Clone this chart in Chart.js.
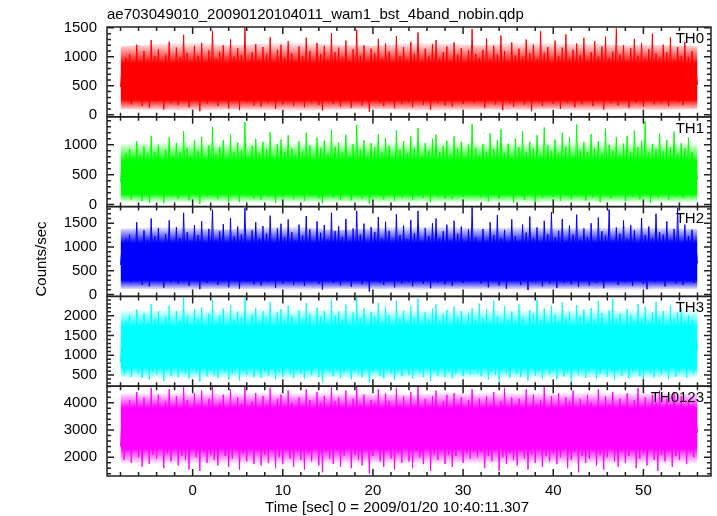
<!DOCTYPE html>
<html>
<head>
<meta charset="utf-8">
<script src="https://cdn.jsdelivr.net/npm/chart.js@4/dist/chart.umd.min.js"></script>
<style>
  html, body { margin: 0; padding: 0; background: #fff; }
  #wrap { width: 717px; height: 516px; }
</style>
</head>
<body>
<div id="wrap"><canvas id="lc" width="717" height="516"></canvas></div>
<script>
const fileTitle = "ae703049010_20090120104011_wam1_bst_4band_nobin.qdp";
const xTitle = "Time [sec] 0 = 2009/01/20 10:40:11.307";
const yTitle = "Counts/sec";
const panelNames = ["TH0", "TH1", "TH2", "TH3", "TH0123"];
const panelRgb = ["255,0,0", "0,255,0", "0,0,255", "0,255,255", "255,0,255"];

// time grid of the light curve (start of first bin, bin width in sec)
const binStart = -8.0;
const binSize = 0.2;

// count rates (counts/sec)
const th0Rate = [
  480, 860, 250, 980, 320, 1050, 180, 900, 380, 1210, 270, 940, 150, 1100, 340, 960, 120, 1290, 300, 1010,
  220, 1130, 360, 890, 90, 1040, 310, 1260, 200, 920, 400, 1160, 170, 990, 280, 1380, 240, 1070, 130, 930,
  350, 1190, 260, 1020, 60, 1240, 330, 900, 190, 1110, 300, 1450, 220, 970, 150, 1090, 390, 1200, 270, 880,
  110, 1300, 240, 1000, 350, 1150, 80, 1030, 290, 1500, 210, 930, 370, 1080, 160, 1220, 320, 960, 140, 1170,
  280, 1050, 200, 1340, 340, 910, 100, 1120, 260, 1210, 180, 980, 400, 1270, 230, 1060, 150, 940, 310, 1180,
  250, 1010, 130, 1330, 290, 1100, 210, 890, 370, 1240, 170, 1050, 70, 1190, 330, 950, 240, 1410, 190, 1080,
  300, 1160, 140, 990, 260, 1280, 350, 920, 120, 1130, 280, 1470, 220, 1020, 160, 1200, 310, 900, 50, 1140,
  270, 1060, 380, 1310, 200, 970, 150, 1230, 330, 1090, 240, 900, 110, 1360, 290, 1010, 180, 1170, 350, 950,
  210, 1260, 130, 1050, 300, 1420, 250, 920, 170, 1140, 360, 1000, 90, 1220, 280, 1290, 200, 970, 320, 1080,
  160, 1180, 270, 940, 140, 1250, 230, 1040, 380, 1150, 190, 910, 260, 1110, 300, 1480, 210, 1050, 340, 980,
  230, 1120, 120, 1320, 290, 960, 350, 1190, 180, 1040, 260, 1370, 80, 1100, 310, 930, 200, 1250, 140, 1020,
  330, 1140, 250, 990, 170, 1300, 280, 1060, 60, 1210, 360, 950, 220, 1440, 150, 1070, 300, 1170, 240, 910,
  190, 1280, 340, 1010, 100, 1160, 270, 1390, 210, 960, 390, 1120, 130, 1230, 290, 1030, 180, 1330, 320, 940,
  260, 1080, 150, 1270, 370, 1000, 230, 1180, 90, 1350, 280, 980, 200, 1090, 340, 1490, 160, 1040, 250, 1200,
  310, 930, 120, 1150, 270, 1310, 210, 1020, 380, 1240, 140, 970, 290, 1130, 230, 1400, 180, 1060, 350, 990,
  200, 1210, 300, 1080, 150, 1340, 260, 950, 330, 1170, 220, 1020, 170, 1260, 290, 990, 240, 1100, 380, 880, 520
];
const th1Rate = [
  380, 740, 160, 860, 240, 930, 90, 790, 300, 1060, 180, 820, 60, 980, 260, 850, 30, 1150, 210, 880,
  170, 1000, 250, 760, 20, 920, 230, 1120, 140, 810, 280, 1030, 100, 870, 200, 1230, 160, 950, 70, 820,
  270, 1070, 190, 900, 10, 1130, 240, 780, 130, 990, 220, 1300, 150, 850, 90, 960, 280, 1080, 180, 760,
  50, 1170, 170, 880, 260, 1040, 40, 910, 210, 1380, 140, 810, 270, 980, 100, 1100, 230, 860, 80, 1050,
  200, 930, 130, 1210, 250, 790, 30, 1010, 190, 1090, 120, 880, 280, 1160, 160, 940, 90, 830, 220, 1060,
  180, 900, 60, 1200, 210, 990, 140, 770, 270, 1120, 110, 950, 20, 1070, 240, 850, 170, 1250, 120, 970,
  220, 1040, 80, 870, 190, 1170, 260, 820, 70, 1010, 200, 1330, 150, 920, 100, 1080, 230, 800, 10, 1030,
  190, 960, 280, 1180, 140, 870, 90, 1110, 240, 980, 170, 790, 60, 1240, 210, 910, 120, 1060, 260, 850,
  150, 1140, 80, 950, 220, 1280, 180, 810, 110, 1030, 270, 900, 40, 1100, 200, 1170, 140, 870, 240, 980,
  100, 1070, 190, 840, 90, 1140, 160, 940, 280, 1050, 130, 790, 250, 1000, 220, 1350, 150, 950, 260, 820,
  120, 1010, 230, 890, 50, 1190, 170, 930, 270, 1080, 100, 1260, 200, 860, 140, 1020, 250, 780, 30, 1110,
  210, 960, 150, 1230, 80, 880, 260, 1050, 180, 940, 20, 1160, 240, 830, 110, 1290, 190, 990, 270, 900,
  130, 1090, 220, 860, 60, 1200, 250, 970, 160, 1120, 90, 810, 230, 1340, 140, 920, 280, 1040, 70, 880,
  190, 1180, 120, 940, 260, 1060, 40, 850, 210, 1270, 150, 1000, 100, 910, 240, 1130, 170, 820, 280, 1020,
  60, 1150, 200, 880, 130, 1240, 270, 960, 90, 1070, 230, 1390, 160, 870, 30, 1010, 250, 930, 120, 1190,
  220, 900, 170, 1080, 80, 960, 240, 1220, 140, 850, 270, 1030, 110, 940, 200, 1120, 150, 880, 260, 740, 420
];
const th2Rate = [
  620, 1080, 300, 1170, 420, 1260, 250, 1100, 460, 1520, 330, 1010, 200, 1350, 440, 1150, 170, 1600, 360, 1220,
  290, 1400, 430, 1080, 140, 1270, 390, 1560, 260, 1120, 480, 1420, 220, 1190, 350, 1720, 300, 1310, 180, 1130,
  440, 1460, 320, 1250, 110, 1540, 410, 1090, 240, 1380, 370, 1780, 280, 1160, 200, 1330, 460, 1480, 340, 1060,
  150, 1610, 300, 1220, 430, 1430, 120, 1260, 360, 1820, 270, 1110, 450, 1350, 210, 1520, 390, 1170, 190, 1440,
  350, 1280, 260, 1660, 420, 1100, 140, 1390, 320, 1490, 230, 1200, 470, 1580, 290, 1310, 200, 1140, 380, 1470,
  310, 1240, 180, 1650, 360, 1370, 270, 1070, 450, 1540, 220, 1300, 100, 1460, 410, 1160, 300, 1720, 240, 1330,
  370, 1440, 190, 1210, 330, 1590, 430, 1120, 160, 1390, 350, 1760, 280, 1260, 210, 1490, 380, 1100, 60, 1420,
  340, 1310, 460, 1630, 250, 1180, 200, 1530, 410, 1340, 300, 1080, 150, 1690, 360, 1250, 230, 1450, 430, 1160,
  260, 1570, 170, 1290, 370, 1760, 310, 1110, 220, 1400, 440, 1230, 130, 1500, 350, 1600, 250, 1180, 400, 1330,
  210, 1470, 330, 1150, 180, 1550, 290, 1280, 460, 1430, 240, 1090, 320, 1370, 270, 1840, 360, 1200, 310, 1060,
  230, 1380, 410, 1130, 150, 1520, 340, 1250, 270, 1670, 190, 1190, 450, 1360, 120, 1090, 300, 1580, 380, 1230,
  280, 1120, 200, 1470, 350, 1300, 90, 1640, 420, 1180, 260, 1410, 330, 1070, 170, 1550, 390, 1270, 230, 1730,
  360, 1200, 140, 1340, 310, 1590, 250, 1110, 470, 1450, 210, 1260, 380, 1680, 160, 1150, 290, 1390, 440, 1210,
  190, 1500, 320, 1090, 240, 1620, 400, 1330, 130, 1240, 350, 1790, 270, 1140, 420, 1410, 200, 1280, 310, 1560,
  250, 1170, 380, 1460, 180, 1350, 300, 1080, 440, 1610, 220, 1250, 110, 1430, 340, 1190, 260, 1700, 390, 1310,
  330, 1260, 170, 1540, 290, 1150, 410, 1380, 230, 1820, 350, 1110, 200, 1470, 270, 1230, 390, 1360, 240, 1120, 650
];
const th3Rate = [
  820, 1720, 520, 1860, 650, 2010, 450, 1760, 720, 2160, 560, 1800, 420, 2060, 680, 1830, 380, 2300, 600, 1920,
  520, 2110, 700, 1740, 350, 1980, 640, 2250, 480, 1790, 760, 2120, 440, 1870, 590, 2480, 530, 2010, 410, 1770,
  690, 2170, 560, 1940, 330, 2220, 660, 1740, 470, 2060, 610, 2400, 500, 1830, 420, 2020, 720, 2180, 580, 1710,
  390, 2270, 540, 1900, 690, 2110, 360, 1950, 600, 2450, 510, 1780, 700, 2030, 450, 2200, 640, 1840, 430, 2120,
  590, 1960, 490, 2350, 670, 1760, 380, 2090, 570, 2170, 460, 1880, 740, 2260, 530, 2000, 420, 1800, 630, 2140,
  550, 1920, 400, 2320, 610, 2050, 500, 1720, 700, 2210, 450, 1990, 310, 2130, 660, 1850, 560, 2420, 470, 2010,
  620, 2110, 420, 1880, 570, 2280, 690, 1780, 390, 2080, 600, 2460, 520, 1950, 440, 2190, 650, 1750, 300, 2100,
  580, 1990, 720, 2330, 480, 1850, 410, 2230, 670, 2020, 540, 1730, 370, 2380, 610, 1930, 470, 2140, 690, 1820,
  500, 2250, 400, 1960, 630, 2440, 560, 1780, 450, 2090, 710, 1910, 350, 2180, 600, 2290, 490, 1860, 660, 2040,
  440, 2150, 580, 1810, 410, 2230, 540, 1970, 730, 2120, 480, 1760, 610, 2060, 520, 2200, 640, 1880, 560, 2310,
  470, 1940, 690, 2170, 380, 1830, 600, 2390, 510, 2000, 340, 1790, 650, 2240, 560, 1900, 430, 2110, 700, 1850,
  530, 2290, 450, 1970, 620, 1760, 360, 2150, 680, 2060, 490, 2410, 580, 1880, 410, 2190, 640, 1810, 520, 2250,
  600, 2030, 390, 1870, 710, 2340, 470, 1950, 560, 2120, 320, 1780, 640, 2270, 500, 1990, 680, 2160, 430, 1840,
  570, 2200, 660, 1900, 400, 2370, 530, 2070, 720, 1800, 460, 2140, 590, 2430, 370, 1920, 610, 2050, 490, 1770,
  650, 2180, 420, 2010, 580, 1860, 700, 2300, 480, 1940, 350, 2230, 620, 1820, 540, 2090, 440, 2360, 670, 1980,
  510, 2120, 600, 1790, 390, 2260, 680, 1930, 460, 2080, 570, 2210, 640, 1870, 430, 2020, 710, 1890, 550, 1720, 1150
];
const th0123Rate = [
  2400, 3650, 1900, 3900, 2200, 4100, 1800, 3720, 2250, 4400, 2000, 3680, 1650, 4200, 2250, 3800, 1750, 4550, 2100, 3950,
  1950, 4300, 2300, 3650, 1600, 4050, 2150, 4500, 1850, 3750, 2280, 4250, 1700, 3850, 2050, 4600, 1900, 4100, 1550, 3700,
  2300, 4350, 2000, 3950, 1500, 4450, 2200, 3650, 1800, 4150, 2100, 4600, 1900, 3800, 1700, 4000, 2300, 4300, 2050, 3620,
  1650, 4500, 1950, 3900, 2250, 4200, 1550, 3950, 2150, 4600, 1850, 3750, 2300, 4050, 1750, 4350, 2200, 3850, 1700, 4250,
  2100, 3950, 1800, 4550, 2300, 3700, 1600, 4150, 2000, 4300, 1750, 3900, 2280, 4450, 1950, 4000, 1650, 3750, 2250, 4200,
  1900, 3900, 1550, 4500, 2150, 4100, 1850, 3650, 2300, 4400, 1700, 4000, 1450, 4250, 2200, 3800, 1950, 4600, 1750, 4050,
  2250, 4200, 1650, 3850, 2050, 4450, 2300, 3700, 1600, 4150, 2100, 4600, 1900, 3950, 1700, 4300, 2200, 3650, 1400, 4100,
  2050, 4000, 2300, 4500, 1850, 3800, 1650, 4350, 2250, 4050, 1950, 3620, 1550, 4550, 2150, 3900, 1800, 4250, 2300, 3750,
  1850, 4400, 1600, 3950, 2200, 4600, 2000, 3700, 1750, 4150, 2300, 3850, 1500, 4250, 2100, 4450, 1900, 3800, 2250, 4050,
  1750, 4300, 2100, 3750, 1650, 4350, 2050, 3950, 2300, 4200, 1800, 3650, 2150, 4100, 1950, 4500, 2200, 3800, 2000, 4150,
  2200, 3700, 1600, 4250, 2050, 3900, 1850, 4400, 2250, 3800, 1500, 4050, 2000, 4550, 1750, 3750, 2150, 4200, 1900, 3950,
  1700, 4150, 2250, 3850, 1950, 4500, 1550, 3700, 2100, 4300, 1800, 3950, 2300, 4100, 1650, 4600, 2050, 3800, 1850, 4250,
  2150, 3900, 1750, 4350, 2000, 3650, 2300, 4200, 1600, 4050, 1900, 4450, 2200, 3750, 1450, 4150, 2050, 3950, 1800, 4300,
  1950, 4000, 2250, 3700, 1700, 4500, 2100, 3850, 1550, 4250, 2000, 3950, 2300, 4400, 1850, 3800, 1650, 4150, 2200, 3900,
  1800, 4350, 2050, 3750, 2250, 4100, 1600, 4550, 1950, 3850, 2150, 4200, 1700, 3650, 2300, 4300, 1900, 4000, 1500, 4450,
  2100, 3800, 1850, 4150, 2200, 3950, 1650, 4400, 2050, 3700, 1900, 4250, 2250, 3850, 1750, 4050, 2150, 3900, 2000, 3600, 2900
];

// fuzzy envelope of each band (where the trace is dense), read every 4 sec from -8 to 56
const envStep = 4;
const th0Env = { high: [1180, 1220, 1250, 1200, 1230, 1260, 1210, 1190, 1240, 1230, 1200, 1250, 1220, 1230, 1200, 1210, 1180], low: [100, 80, 70, 90, 80, 60, 90, 100, 80, 70, 90, 80, 100, 70, 90, 80, 100] };
const th1Env = { high: [1000, 1030, 1050, 1020, 1040, 1010, 1050, 1030, 1020, 1050, 1030, 1010, 1020, 1050, 1030, 1020, 1000], low: [50, 40, 30, 50, 40, 30, 50, 40, 30, 40, 50, 30, 40, 50, 30, 40, 50] };
const th2Env = { high: [1380, 1420, 1400, 1370, 1420, 1430, 1350, 1400, 1440, 1420, 1390, 1420, 1400, 1390, 1420, 1400, 1380], low: [110, 100, 90, 110, 100, 90, 120, 100, 90, 110, 100, 90, 110, 100, 90, 100, 110] };
const th3Env = { high: [2120, 2160, 2150, 2120, 2170, 2150, 2130, 2160, 2120, 2150, 2170, 2130, 2160, 2150, 2120, 2160, 2130], low: [440, 430, 420, 440, 430, 410, 440, 430, 420, 440, 430, 420, 440, 430, 420, 430, 440] };
const th0123Env = { high: [4320, 4360, 4380, 4340, 4370, 4390, 4350, 4340, 4300, 4370, 4360, 4380, 4340, 4370, 4360, 4340, 4320], low: [1780, 1760, 1750, 1770, 1760, 1740, 1770, 1760, 1780, 1750, 1770, 1760, 1750, 1770, 1760, 1770, 1780] };
// the saturated core inside it [low, high]
const panelCore = [[260, 880], [180, 720], [300, 1080], [700, 1720], [2350, 3800]];

const panelRates = [th0Rate, th1Rate, th2Rate, th3Rate, th0123Rate];
const panelEnv = [th0Env, th1Env, th2Env, th3Env, th0123Env];

// axis ranges and tick steps per panel
const xRange = [-9.5, 57.5];
const yRanges = [[-35, 1515], [-33, 1467], [-42, 1850], [220, 2490], [1315, 4610]];
const yMajor = [500, 500, 500, 500, 1000];
const yMinor = [100, 100, 100, 100, 200];

const font = "'Liberation Sans', Arial, Helvetica, sans-serif";

// qdp style frame: a box round each panel with inward ticks on all sides, plus the texts
const qdpFrame = {
  id: "qdpFrame",
  afterDatasetsDraw(chart) {
    const ctx = chart.ctx;
    const xs = chart.scales.x;
    ctx.save();
    ctx.strokeStyle = "#222";
    ctx.lineWidth = 1.5;
    panelNames.forEach((name, i) => {
      const ys = chart.scales["y" + i];
      const top = ys.top, bottom = ys.bottom, left = xs.left, right = xs.right;
      ctx.strokeRect(left, top, right - left, bottom - top);
      ctx.beginPath();
      for (let t = Math.ceil(xs.min / 2) * 2; t <= xs.max; t += 2) {
        const px = xs.getPixelForValue(t);
        const len = t % 10 === 0 ? 7 : 4;
        ctx.moveTo(px, bottom); ctx.lineTo(px, bottom - len);
        ctx.moveTo(px, top); ctx.lineTo(px, top + len);
      }
      for (let v = Math.ceil(ys.min / yMinor[i]) * yMinor[i]; v <= ys.max; v += yMinor[i]) {
        const py = ys.getPixelForValue(v);
        const len = v % yMajor[i] === 0 ? 7 : 4;
        ctx.moveTo(left, py); ctx.lineTo(left + len, py);
        ctx.moveTo(right, py); ctx.lineTo(right - len, py);
      }
      ctx.stroke();
      ctx.fillStyle = "#000";
      ctx.font = "15px " + font;
      ctx.textAlign = "right";
      ctx.textBaseline = "alphabetic";
      ctx.fillText(name, 704, top + 16);
    });
    ctx.fillStyle = "#000";
    ctx.font = "15px " + font;
    ctx.textAlign = "left";
    ctx.fillText(fileTitle, 107, 19);
    ctx.textAlign = "center";
    ctx.fillText(xTitle, 397, 512);
    ctx.translate(46, 259);
    ctx.rotate(-Math.PI / 2);
    ctx.fillText(yTitle, 0, 0);
    ctx.restore();
  }
};

// vertical fade: solid in the core, thinning out to nothing at the envelope
function bandFade(i) {
  return (c) => {
    const chart = c.chart;
    const ys = chart.scales["y" + i];
    if (!ys || !chart.chartArea) return "rgba(" + panelRgb[i] + ",0.6)";
    const h = ys.bottom - ys.top;
    const f = (v) => Math.min(1, Math.max(0, (ys.getPixelForValue(v) - ys.top) / h));
    const g = chart.ctx.createLinearGradient(0, ys.top, 0, ys.bottom);
    g.addColorStop(f(Math.max(...panelEnv[i].high)), "rgba(" + panelRgb[i] + ",0)");
    g.addColorStop(f(panelCore[i][1]), "rgba(" + panelRgb[i] + ",1)");
    g.addColorStop(f(panelCore[i][0]), "rgba(" + panelRgb[i] + ",1)");
    g.addColorStop(f(Math.min(...panelEnv[i].low)), "rgba(" + panelRgb[i] + ",0)");
    return g;
  };
}

const datasets = [];
panelRates.forEach((rates, i) => {
  const env = panelEnv[i];
  datasets.push({
    label: panelNames[i] + " envelope",
    data: env.high.map((v, k) => ({ x: binStart + k * envStep, y: v })),
    yAxisID: "y" + i,
    borderWidth: 0,
    pointRadius: 0,
    backgroundColor: bandFade(i),
    fill: "+1"
  });
  datasets.push({
    label: panelNames[i] + " envelope low",
    data: env.low.map((v, k) => ({ x: binStart + k * envStep, y: v })),
    yAxisID: "y" + i,
    borderWidth: 0,
    pointRadius: 0,
    fill: false
  });
  datasets.push({
    label: panelNames[i],
    data: rates.map((r, k) => ({ x: binStart + k * binSize, y: r })),
    yAxisID: "y" + i,
    borderColor: "rgb(" + panelRgb[i] + ")",
    borderWidth: 1,
    pointRadius: 0,
    tension: 0,
    fill: false
  });
});

const scales = {
  x: {
    type: "linear",
    min: xRange[0],
    max: xRange[1],
    grid: { display: false, drawTicks: false },
    border: { display: false },
    ticks: { stepSize: 10, includeBounds: false, padding: 6, color: "#000", font: { family: font, size: 15 }, maxRotation: 0 },
    afterFit: (s) => { s.height = 40; }
  }
};
// stacked y axes, bottom panel first so the first panel ends up on top
for (let i = panelNames.length - 1; i >= 0; i--) {
  scales["y" + i] = {
    type: "linear",
    position: "left",
    stack: "panels",
    stackWeight: 1,
    min: yRanges[i][0],
    max: yRanges[i][1],
    grid: { display: false, drawTicks: false },
    border: { display: false },
    ticks: { autoSkip: false, padding: 10, color: "#000", font: { family: font, size: 15 }, callback: (v) => String(v) },
    afterBuildTicks: (s) => {
      const step = yMajor[i];
      const t = [];
      for (let v = Math.ceil(yRanges[i][0] / step) * step; v <= yRanges[i][1]; v += step) t.push({ value: v });
      s.ticks = t;
    },
    afterFit: (s) => { s.width = 107; }
  };
}

new Chart(document.getElementById("lc").getContext("2d"), {
  type: "line",
  data: { datasets: datasets },
  options: {
    responsive: false,
    animation: false,
    events: [],
    layout: { padding: { top: 27, right: 6, bottom: 0, left: 0 } },
    plugins: { legend: { display: false }, title: { display: false }, tooltip: { enabled: false } },
    scales: scales
  },
  plugins: [qdpFrame]
});
</script>
</body>
</html>
